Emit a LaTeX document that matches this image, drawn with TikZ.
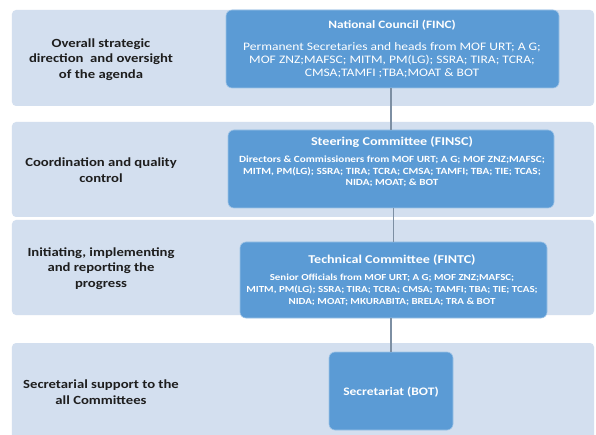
\documentclass[tikz,border=0pt]{standalone}
\usepackage{fontspec}
\setmainfont{Carlito}[FakeStretch=1.18]
\begin{document}
\definecolor{bandblue}{HTML}{D3DFEF}
\definecolor{boxblue}{HTML}{5B9BD5}
\definecolor{linkgray}{HTML}{7D8FA3}
\definecolor{labeltext}{HTML}{1E1E1E}
\begin{tikzpicture}[x=1bp,y=-1bp,
  band/.style={fill=bandblue, rounded corners=4bp, inner sep=0pt, minimum width=582bp},
  unit/.style={fill=boxblue, draw=boxblue!60!white, line width=0.6bp, rounded corners=6bp, inner sep=0pt},
  role/.style={text=labeltext, font=\bfseries\fontsize{12.5}{15.5}\selectfont, align=center},
  title/.style={text=white, font=\bfseries\fontsize{12}{14}\selectfont, align=center},
  members/.style={text=white, align=center},
  link/.style={draw=linkgray, line width=1.2bp}]
\useasboundingbox (0,0) rectangle (596,435);
\fill[white] (0,0) rectangle (596,435);

% horizontal bands, one per level
\node[band, minimum height=96bp] (band1) at (303,58) {};
\node[band, minimum height=95bp] (band2) at (303,169.5) {};
\node[band, minimum height=95bp] (band3) at (303,267.5) {};
\node[band, minimum height=100bp] (band4) at (303,393) {};

% responsibilities of each level
\node[role] (role1) at (101,59.5) {Overall strategic\\direction\ \ and oversight\\of the agenda};
\node[role] (role2) at (101,170) {Coordination and quality\\control};
\node[role] (role3) at (101,268.5) {Initiating, implementing\\and reporting the\\progress};
\node[role] (role4) at (101,392) {Secretarial support to the\\all Committees};

% committee boxes
\node[unit, minimum width=333bp, minimum height=78bp] (finc) at (392.5,49) {};
\node[unit, minimum width=326bp, minimum height=78bp] (finsc) at (391,169) {};
\node[unit, minimum width=307bp, minimum height=76bp] (fintc) at (393.5,280) {};
\node[unit, minimum width=124bp, minimum height=78bp] (bot) at (391,391) {};

% committee texts
\node[title, font=\bfseries\fontsize{11.3}{14}\selectfont] (fincT) at (392,25) {National Council (FINC)};
\node[members, font=\fontsize{11.5}{13}\selectfont] (fincM) at (392,60)
  {Permanent Secretaries and heads from MOF URT; A G;\\MOF ZNZ;MAFSC; MITM, PM(LG); SSRA; TIRA; TCRA;\\CMSA;TAMFI ;TBA;MOAT \& BOT};

\node[title] (finscT) at (392,142) {Steering Committee (FINSC)};
\node[members, font=\bfseries\fontsize{9.5}{11.5}\selectfont] (finscM) at (392,171.5)
  {Directors \& Commissioners from MOF URT; A G; MOF ZNZ;MAFSC;\\MITM, PM(LG); SSRA; TIRA; TCRA; CMSA; TAMFI; TBA; TIE; TCAS;\\NIDA; MOAT; \& BOT};

\node[title] (fintcT) at (392,260) {Technical Committee (FINTC)};
\node[members, font=\bfseries\fontsize{9.3}{12}\selectfont] (fintcM) at (392,290)
  {Senior Officials from MOF URT; A G; MOF ZNZ;MAFSC;\\MITM, PM(LG); SSRA; TIRA; TCRA; CMSA; TAMFI; TBA; TIE; TCAS;\\NIDA; MOAT; MKURABITA; BRELA; TRA \& BOT};

\node[title, font=\bfseries\fontsize{11.5}{14}\selectfont] (botT) at (391,392) {Secretariat (BOT)};

% reporting lines
\draw[link] (finc.south -| finsc.north) -- (finsc.north);
\draw[link] (finsc.south -| fintc.north) -- (fintc.north);
\draw[link] (fintc.south -| bot.north) -- (bot.north);
\end{tikzpicture}
\end{document}
